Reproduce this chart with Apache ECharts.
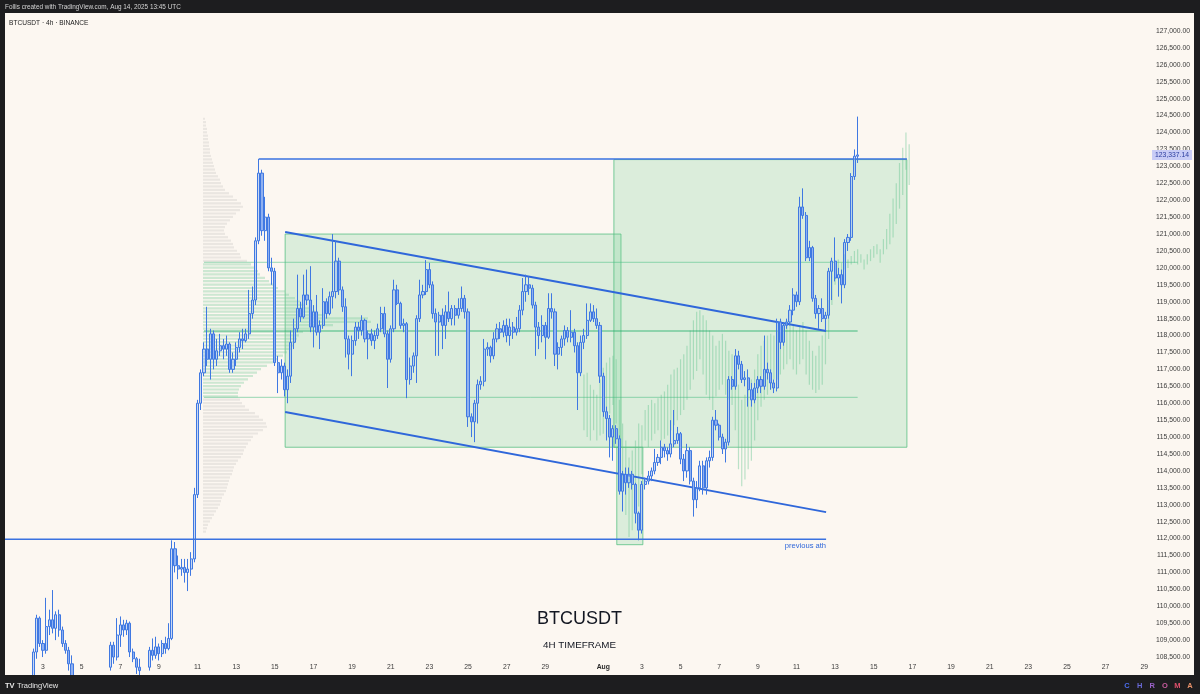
<!DOCTYPE html>
<html><head><meta charset="utf-8">
<script src="https://cdn.jsdelivr.net/npm/echarts@6/dist/echarts.min.js"></script>
<style>html,body{margin:0;padding:0;background:#1d1d1f;}#c{width:1200px;height:694px;}</style>
</head><body><div id="c"></div>
<script>
// ---------- time slots (4h candles from Jul 1 2025) ----------
const slotStart = Date.UTC(2025, 6, 1, 0);
const slotHours = 4;
const slotCount = 356;
const tickDays = ['07-03','07-05','07-07','07-09','07-11','07-13','07-15','07-17','07-19','07-21','07-23','07-25','07-27','07-29','08-01','08-03','08-05','08-07','08-09','08-11','08-13','08-15','08-17','08-19','08-21','08-23','08-25','08-27','08-29'];
const tickLabels = ['3','5','7','9','11','13','15','17','19','21','23','25','27','29','Aug','3','5','7','9','11','13','15','17','19','21','23','25','27','29'];

// ---------- candles [open, close, low, high] ----------
const candlesJul = [
[107150,106900,106700,107500],[106900,106300,106100,107000],[106300,105800,105300,106400],[105800,105900,105500,106200],[105900,106500,105700,106700],[106500,105700,105600,106600],
[105700,106300,105600,106500],[106300,106900,106100,107100],[106900,107800,106800,108000],[107800,108650,107700,108750],[108650,109650,108450,109750],[109650,108900,108800,109700],
[108900,108700,108500,109000],[108700,109400,108600,110250],[109400,109600,109150,109900],[109600,109350,109200,110480],[109350,109750,109000,109850],[109750,109300,109100,109900],
[109300,108900,108800,109400],[108900,108700,108600,109000],[108700,108300,108100,108800],[108300,107800,107600,108550],[107800,107500,107250,108000],[107500,107800,107400,108000],
[107800,108000,107700,108200],[108000,107900,107700,108150],[107900,108100,107800,108250],[108100,108000,107850,108300],[108000,108150,107900,108300],[108150,108050,107950,108300],
[108050,108200,107900,108350],[108200,108000,107850,108300],[108000,108200,107900,108350],[108200,108850,108100,108950],[108850,108500,108300,108950],[108500,109150,108400,109650],
[109150,109450,108800,109700],[109450,109300,109100,109600],[109300,109500,109150,109600],[109500,108650,108500,109550],[108650,108450,108350,108750],[108450,108200,108000,108500],
[108200,108100,107900,108450],[108100,108000,107800,108300],[108000,108200,107900,108350],[108200,108700,108100,108800],[108700,108550,108400,109050],[108550,108800,108450,109100],
[108800,108600,108400,108900],[108600,108900,108500,109000],[108900,108750,108600,109100],[108750,109050,108700,109500],[109050,111700,109000,111950],[111700,111200,111000,111900],
[111200,111100,110800,111500],[111100,111150,110900,111400],[111150,111000,110700,111400],[111000,111100,110450,111400],[111100,111400,110900,111600],[111400,113300,111300,113500],
[113300,116000,113200,116100],[116000,116900,115800,117000],[116900,117600,116800,117800],[117600,117300,117100,118850],[117300,118050,116700,118200],[118050,117300,117000,118150],
[117300,117550,117100,117900],[117550,117700,117400,118050],[117700,117600,117300,117900],[117600,117750,117400,118000],[117750,117000,116900,117800],[117000,117300,116900,117500],
[117300,117650,117100,117800],[117650,117900,117500,118100],[117900,117850,117600,118200],[117850,118050,117800,118200],[118050,118650,117900,119350],[118650,119050,118500,119450],
[119050,120800,118900,120900],[120800,122800,120700,123218],[122800,121100,120950,122900],[121100,121500,120800,122100],[121500,120000,119900,121600],[120000,119900,119500,120300],
[119900,117200,117100,120000],[117200,116900,116300,117400],[116900,117100,116700,117300],[117100,116400,116200,117200],[116400,116800,116000,117000],[116800,117800,116600,118150],
[117800,118200,117600,118500],[118200,118800,118100,119800],[118800,118550,118400,119000],[118550,119200,118500,119800],[119200,119050,118900,119950],[119050,118250,118100,120050],
[118250,118700,117650,118900],[118700,118100,118000,119200],[118100,118300,117600,118450],[118300,119000,118200,119400],[119000,118650,118500,119100],[118650,119150,118600,119300],
[119150,119300,118800,121000],[119300,120200,119100,120800],[120200,119350,119200,120300],[119350,118850,118700,119450],[118850,117900,117350,119100],[117900,117450,117000,118000],
[117450,117850,116800,118000],[117850,118250,117700,118400],[118250,118150,117900,118400],[118150,118450,118000,118600],[118450,117900,117800,118500],[117900,118050,117300,118150],
[118050,117850,117700,118200],[117850,118000,117600,118150],[118000,118200,117900,118350],[118200,118650,118100,118850],[118650,118050,117950,118850],[118050,117300,116450,118150],
[117300,118200,117200,118300],[118200,119350,118100,119650],[119350,118950,118900,119500],[118950,118300,118200,119000],[118300,118350,118100,118500],[118350,116700,116150,118400],
[116700,117100,116550,117350],[117100,117400,116900,117500],[117400,118500,116600,118600],[118500,119200,118400,119650],[119200,119300,119100,119500],[119300,119950,119200,120230],
[119950,119500,119400,120150],[119500,118650,118500,119600],[118650,118400,117400,118800],[118400,118600,117400,118700],[118600,118300,117600,118800],[118300,118700,117900,118900],
[118700,118500,118400,119300],[118500,118800,118300,118900],[118800,118600,118300,118900],[118600,118800,118500,119100],[118800,119100,118700,119450],[119100,118700,118500,119200],
[118700,115600,115300,118800],[115600,115450,115000,115700],[115450,116000,114850,116100],[116000,116550,115400,116700],[116550,116650,116400,116800],[116650,117600,116500,117900],
[117600,117650,117400,117800],[117650,117400,117200,117700],[117400,117900,117300,118100],[117900,118200,117800,118350],[118200,118100,117900,118400],[118100,118300,117950,118450],
[118300,118000,117800,118500],[118000,118250,117700,118500],[118250,118100,117900,118400],[118100,118200,118000,118550],[118200,118750,118100,118900],[118750,119300,118600,119700],
[119300,119500,119000,119800],[119500,119400,119200,119750],[119400,118900,118800,119500],[118900,118250,117400,119000],[118250,118000,117600,118400],[118000,118300,117800,118600],
[118300,117950,117300,118400],[117950,118800,117900,119250],[118800,118700,118500,119250],[118700,117450,117100,118800],[117450,117650,117000,117800],[117650,117900,117400,118000],
[117900,118150,117700,118300],[118150,117950,117800,118250],[117950,118100,117800,118750],[118100,117700,117500,118200],[117700,116900,115800,117800],[116900,117800,116800,118000],
[117800,118000,117600,118200],[118000,118450,117900,118950],[118450,118700,118400,118950],[118700,118500,118400,118900],[118500,118300,118200,118800],[118300,116800,116600,118400]
];
const candlesAug = [
[116800,115750,115600,116900],[115750,115550,114900,115900],[115550,115000,114400,115650],[115000,115250,114300,115350],[115250,114950,114800,115350],[114950,113400,113300,115050],
[113400,113900,112800,114000],[113900,113650,113300,114100],[113650,113900,113500,114100],[113900,113600,113450,114000],[113600,112750,112450,113650],[112750,112250,111950,112800],
[112250,113600,112150,113700],[113600,113700,113450,113800],[113700,113850,113600,114000],[113850,114000,113700,114100],[114000,114250,113900,114650],[114250,114400,114150,114500],
[114400,114700,114200,114900],[114700,114600,114400,114800],[114600,114500,114300,114700],[114500,114800,114400,115500],[114800,114900,114700,115800],[114900,115100,114800,115300],
[115100,114350,114200,115150],[114350,114000,113700,114500],[114000,114600,113800,114800],[114600,113700,113600,114700],[113700,113150,112650,113800],[113150,113500,112900,113700],
[113500,114150,113400,114300],[114150,113500,113300,114300],[113500,114300,113300,114400],[114300,114400,114100,114600],[114400,115500,114300,115600],[115500,115350,115200,115800],
[115350,115000,114900,115400],[115000,114650,114500,115100],[114650,114850,114250,114950],[114850,116700,114750,116800],[116700,116500,116400,116800],[116500,117400,116400,117600],
[117400,117150,117000,117550],[117150,116700,116600,117250],[116700,116750,116500,116950],[116750,116400,115900,117000],[116400,116100,115900,116600],[116100,116450,116000,116600],
[116450,116700,116300,116800],[116700,116500,116300,116800],[116500,117000,116400,118000],[117000,116900,116700,117200],[116900,116600,116400,117000],[116600,116450,116300,116700],
[116450,118400,116350,118500],[118400,117800,117600,118500],[117800,118300,117700,118400],[118300,118400,118200,118500],[118400,118750,118300,118900],[118750,119200,118600,119400],
[119200,119000,118850,119300],[119000,121800,118900,122100],[121800,121550,121450,122350],[121550,120300,120200,121650],[120300,120600,120200,120800],[120600,119100,119000,120650],
[119100,118650,118500,119200],[118650,118800,118200,118900],[118800,118500,118400,119100],[118500,118600,118150,118700],[118600,119900,118500,120000],[119900,120200,119050,120300],
[120200,119700,119600,120900],[119700,119800,119150,120000],[119800,119500,118950,119950],[119500,120750,119400,120850],[120750,120900,120500,121000],[120900,122700,120800,122800],
[122700,123300,122600,123500],[123300,123337.14,123100,124470]
];
const lastPrice = 123337.14;

// ---------- projected (ghost) bars, from slot 180 ----------
const ghostStart = 180;
const ghostHigh = [116850,116900,116550,116400,116250,116700,117050,117200,117350,117400,
117300,116100,115400,114900,114400,114600,114900,115400,115350,115800,
115950,116100,116000,116150,116250,116350,116550,116850,117000,117050,
117300,117450,117700,118150,118450,118700,118750,118600,118450,118150,
118000,117700,117850,118050,117850,117550,117450,117000,116550,116100,
116250,116400,116700,117000,117450,117700,117850,118000,118050,118000,
118150,118300,118400,118450,118400,118300,118150,118300,118400,118150,
117850,117550,117400,117700,118000,118450,119050,119950,120100,120250,
120150,120400,120250,120350,120500,120550,120400,120250,120400,120550,
120650,120700,120550,120850,121150,121600,122050,122500,123100,123550,
124000,123650];
const ghostLow = [115200,115000,114900,115200,114900,115050,115100,115500,115700,115950,
115400,114050,113450,112700,112050,112250,112850,112950,113900,114900,
114700,114900,115100,115200,114900,114950,115050,115200,115350,115500,
115650,115800,116100,116400,116700,116950,117300,116850,116250,116100,
115800,116200,116400,116550,116250,116100,115950,115200,114050,113550,
113750,114050,114300,114900,115500,115900,116100,116250,116400,116700,
116700,116850,117000,117150,117300,117000,116850,117150,117300,116850,
116550,116400,116300,116400,116550,117150,117900,118900,119500,119800,
119700,119950,120000,120100,120150,120100,120150,119950,120100,120200,
120300,120400,120150,120400,120550,120700,120900,121300,121750,122150,
122900,122450];

// ---------- volume profile (rows of 100 from 124,400 down) ----------
const profileTop = 124400;
const profileStep = 100;
const profileVol = [2,3,3,4,4,5,5,6,6,7,
7,8,9,10,11,12,13,15,17,18,
20,22,26,30,34,38,40,37,33,30,
27,24,22,21,22,25,28,30,31,34,
37,38,44,48,52,55,57,62,66,70,
75,82,86,92,97,102,108,112,122,165,
168,130,110,100,96,94,92,90,88,84,
80,75,70,64,58,54,50,45,41,38,
36,35,35,37,39,42,46,52,56,60,
63,64,60,55,50,48,45,43,41,40,
38,35,33,31,30,29,27,26,25,24,
23,21,19,18,17,15,13,11,9,7,
5,4,3];
const pocPrice = 118135, vaHigh = 120165, vaLow = 116175;

// ---------- drawings [slot, price] ----------
const boxes = [[87.2,121000,191.5,114700],[189.3,123200,280.3,114700],[190.2,114700,198.3,111820]];
const upperTrend = [[87.2,121060],[255.2,118135]];
const lowerTrend = [[87.2,115741],[255.2,112786]];
const athLine = [[79,123218],[280.3,123218]];
const prevAth = [[-0.5,111980],[255.2,111980]];
const profileSpan = [62,265];

// ---------- build ----------
function pad(n){return (n<10?'0':'')+n;}
const slots = [];
for (let i=0;i<slotCount;i++){const d=new Date(slotStart+i*slotHours*3600e3);slots.push(pad(d.getUTCMonth()+1)+'-'+pad(d.getUTCDate())+' '+pad(d.getUTCHours()));}
const tickMap = {}; tickDays.forEach((d,k)=>tickMap[d]=tickLabels[k]);
const candles = candlesJul.concat(candlesAug);
const ghost = ghostHigh.map((h,k)=>[ghostStart+k, ghostLow[k], h]);
const profileData = profileVol.map((v,k)=>[profileTop-k*profileStep, v]);

const FONT = '"Liberation Sans", Arial, sans-serif';
const blue = '#2f67da';
const gLeft = 2.75, gWidth = 1146.3;

function hline(data, color, width){
  return {type:'line', xAxisIndex:1, yAxisIndex:0, data:data, symbol:'none', silent:true, z:3,
    lineStyle:{color:color, width:width}, animation:false};
}

const chart = echarts.init(document.getElementById('c'), null, {renderer:'canvas'});
chart.setOption({
  animation:false,
  backgroundColor:'#fcf7f1',
  grid:[
    {left:gLeft, top:14, width:gWidth, height:646},
    {left:gLeft, top:14.08, width:gWidth, height:642.92}
  ],
  xAxis:[
    {type:'category', gridIndex:0, data:slots, boundaryGap:true,
     axisLine:{show:false}, axisTick:{show:false}, splitLine:{show:false},
     axisLabel:{interval:(idx,val)=>val.slice(6)==='00' && tickMap[val.slice(0,5)]!==undefined,
       formatter:(val)=>{const t=tickMap[val.slice(0,5)]; return t==='Aug' ? '{b|Aug}' : t;},
       color:'#3b3b3b', fontSize:6.8, fontFamily:FONT, margin:4,
       rich:{b:{fontWeight:'bold', color:'#2a2a2a', fontSize:6.8, fontFamily:FONT}}}},
    {type:'value', gridIndex:0, min:-0.5, max:slotCount-0.5, show:false},
    {type:'value', gridIndex:0, min:-(203-gLeft), max:gWidth-(203-gLeft), show:false},
    {type:'value', gridIndex:1, min:0, max:1, show:false}
  ],
  yAxis:[
    {type:'value', gridIndex:0, min:108413, max:127502, show:false},
    {type:'value', gridIndex:1, min:108500, max:127500, interval:500, position:'right',
     axisLine:{show:false}, axisTick:{show:false}, splitLine:{show:false},
     axisLabel:{align:'right', margin:41, fontSize:6.8, color:'#3b3b3b', fontFamily:FONT, showMaxLabel:false,
       formatter:(v)=>v.toLocaleString('en-US',{minimumFractionDigits:2, maximumFractionDigits:2})}}
  ],
  series:[
    {type:'custom', name:'boxes', xAxisIndex:1, yAxisIndex:0, data:boxes, z:1, silent:true,
     encode:{x:[0,2], y:[1,3]},
     renderItem:(params, api)=>{
       const a = api.coord([api.value(0), api.value(1)]);
       const b = api.coord([api.value(2), api.value(3)]);
       return {type:'rect', shape:{x:a[0], y:a[1], width:b[0]-a[0], height:b[1]-a[1]},
         style:{fill:'rgba(105,205,140,0.22)', stroke:'rgba(80,190,125,0.75)', lineWidth:1}};
     }},
    {type:'custom', name:'profile', xAxisIndex:2, yAxisIndex:0, data:profileData, z:1.5, silent:true,
     encode:{x:1, y:0},
     renderItem:(params, api)=>{
       const price = api.value(0), vol = api.value(1);
       const a = api.coord([0, price + profileStep/2]);
       const b = api.coord([vol, price - profileStep/2]);
       const inVA = price >= vaLow && price <= vaHigh;
       return {type:'rect', shape:{x:a[0], y:a[1]+0.4, width:b[0]-a[0], height:Math.max(b[1]-a[1]-1.2,1)},
         style:{fill: inVA ? 'rgba(110,200,150,0.33)' : 'rgba(165,165,165,0.2)'}};
     }},
    {type:'custom', name:'pattern', xAxisIndex:1, yAxisIndex:0, data:ghost, z:2, silent:true,
     encode:{x:0, y:[1,2]},
     renderItem:(params, api)=>{
       const hi = api.coord([api.value(0), api.value(2)]);
       const lo = api.coord([api.value(0), api.value(1)]);
       return {type:'rect', shape:{x:hi[0]-0.6, y:hi[1], width:1.2, height:lo[1]-hi[1]},
         style:{fill:'rgba(95,195,140,0.42)'}};
     }},
    hline([[profileSpan[0],vaHigh],[profileSpan[1],vaHigh]], 'rgba(70,190,130,0.55)', 1),
    hline([[profileSpan[0],vaLow],[profileSpan[1],vaLow]], 'rgba(70,190,130,0.55)', 1),
    hline([[profileSpan[0],pocPrice],[profileSpan[1],pocPrice]], 'rgba(40,175,110,0.85)', 1.2),
    hline(upperTrend, blue, 1.8),
    hline(lowerTrend, blue, 1.8),
    hline(athLine, '#3a72e0', 1.4),
    {type:'line', xAxisIndex:1, yAxisIndex:0, symbol:'circle', symbolSize:0.1, showSymbol:true, silent:true, z:6, clip:false,
     lineStyle:{color:'#3a72e0', width:1.4},
     data:[prevAth[0], {value:prevAth[1], label:{show:true, formatter:'previous ath', position:'bottom', align:'right', distance:3, color:'#2f67da', fontSize:7.6, fontFamily:FONT}}]},
    {type:'candlestick', name:'BTCUSDT', xAxisIndex:0, yAxisIndex:0, data:candles, z:5, clip:true,
     barWidth:2.6,
     itemStyle:{color:'rgba(150,185,245,0.5)', color0:'#8fb0f0', borderColor:'#3f78e2', borderColor0:'#3f78e2', borderWidth:1}},
    {type:'line', xAxisIndex:3, yAxisIndex:1, data:[[0.5,lastPrice]], symbol:'none', silent:true, z:20, clip:false,
     lineStyle:{width:0},
     markLine:{silent:true, symbol:['none','none'], animation:false,
       lineStyle:{color:'rgba(0,0,0,0)', width:0.1, type:'solid'},
       label:{show:true, position:'end', formatter:'123,337.14', backgroundColor:'#c8ccf6', color:'#2b3d9e',
         fontSize:6.8, fontFamily:FONT, padding:[2,3,1,3], distance:3},
       data:[{yAxis:lastPrice}]}}
  ],
  graphic:[
    {type:'rect', z:100, shape:{x:0,y:0,width:1200,height:13}, style:{fill:'#1d1d1f'}},
    {type:'rect', z:100, shape:{x:0,y:675,width:1200,height:19}, style:{fill:'#1d1d1f'}},
    {type:'rect', z:100, shape:{x:0,y:0,width:5,height:694}, style:{fill:'#1d1d1f'}},
    {type:'rect', z:100, shape:{x:1194,y:0,width:6,height:694}, style:{fill:'#1d1d1f'}},
    {type:'rect', z:60, shape:{x:1150,y:660,width:44,height:15}, style:{fill:'#fcf7f1'}},
    {type:'text', z:101, x:5, y:7, style:{text:'Follis created with TradingView.com, Aug 14, 2025 13:45 UTC', fill:'#d4d4d4', fontSize:6.4, fontFamily:FONT, textVerticalAlign:'middle'}},
    {type:'text', z:101, x:9, y:23, style:{text:'BTCUSDT · 4h · BINANCE', fill:'#222', fontSize:6.6, fontFamily:FONT, textVerticalAlign:'middle'}},
    {type:'text', z:101, x:579.5, y:619, style:{text:'BTCUSDT', fill:'#131722', fontSize:18, fontFamily:FONT, textAlign:'center', textVerticalAlign:'middle'}},
    {type:'text', z:101, x:579.5, y:645, style:{text:'4H TIMEFRAME', fill:'#131722', fontSize:9.8, fontFamily:FONT, textAlign:'center', textVerticalAlign:'middle'}},
    {type:'text', z:101, x:5, y:686, style:{text:'TV', fill:'#e6e6e6', fontSize:7.5, fontWeight:'bold', fontFamily:FONT, textVerticalAlign:'middle'}},
    {type:'text', z:101, x:17, y:686, style:{text:'TradingView', fill:'#e6e6e6', fontSize:7.5, fontFamily:FONT, textVerticalAlign:'middle'}},
    {type:'text', z:101, x:1127, y:686, style:{text:'C', fill:'#4b6ef0', fontSize:7.5, fontWeight:'bold', fontFamily:FONT, textAlign:'center', textVerticalAlign:'middle'}},
    {type:'text', z:101, x:1139.6, y:686, style:{text:'H', fill:'#6a6ad8', fontSize:7.5, fontWeight:'bold', fontFamily:FONT, textAlign:'center', textVerticalAlign:'middle'}},
    {type:'text', z:101, x:1152.2, y:686, style:{text:'R', fill:'#9a62c8', fontSize:7.5, fontWeight:'bold', fontFamily:FONT, textAlign:'center', textVerticalAlign:'middle'}},
    {type:'text', z:101, x:1164.8, y:686, style:{text:'O', fill:'#c85c9e', fontSize:7.5, fontWeight:'bold', fontFamily:FONT, textAlign:'center', textVerticalAlign:'middle'}},
    {type:'text', z:101, x:1177.4, y:686, style:{text:'M', fill:'#de506c', fontSize:7.5, fontWeight:'bold', fontFamily:FONT, textAlign:'center', textVerticalAlign:'middle'}},
    {type:'text', z:101, x:1190, y:686, style:{text:'A', fill:'#e8916a', fontSize:7.5, fontWeight:'bold', fontFamily:FONT, textAlign:'center', textVerticalAlign:'middle'}}
  ]
});
</script></body></html>
